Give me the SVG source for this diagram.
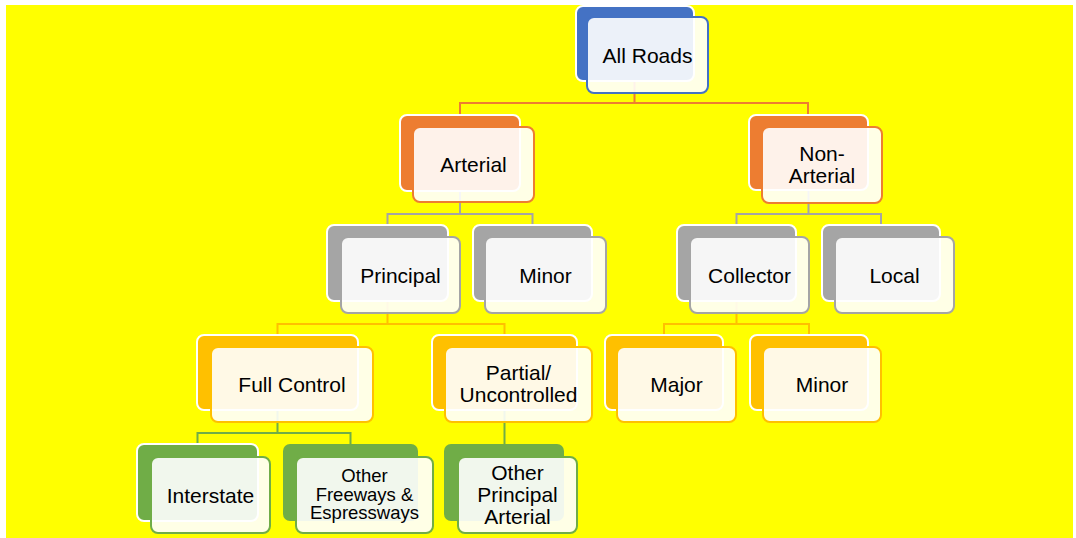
<svg xmlns="http://www.w3.org/2000/svg" width="1076" height="538" viewBox="0 0 1076 538">
<style>
.bg{fill:#ffff00}
.b{stroke:#ffffff;stroke-width:2}
.f{fill:#ffffff;fill-opacity:0.9;stroke-width:2}
.blue .b{fill:#4472c4}.blue .f{stroke:#4472c4}
.org .b{fill:#ed7d31}.org .f{stroke:#ed7d31}
.gry .b{fill:#a5a5a5}.gry .f{stroke:#a5a5a5}
.gld .b{fill:#ffc000}.gld .f{stroke:#ffc000}
.grn .b{fill:#70ad47}.grn .f{stroke:#70ad47}
.nb{stroke:none}
text{font-family:"Liberation Sans",Arial,sans-serif;font-size:21px;fill:#000;text-anchor:middle}
.sm{font-size:18.5px}
.c{fill:none;stroke-width:2}
</style>
<rect class="bg" x="6" y="5" width="1067" height="533"/>
<g id="connectors">
<path class="c" stroke="#ed7d31" d="M634.5 81V103M460 115V103H808V115"/>
<path class="c" stroke="#a5a5a5" d="M460 191V214M387.5 225V214H532.5V225"/>
<path class="c" stroke="#a5a5a5" d="M808.5 190V214M736.5 225V214H881V225"/>
<path class="c" stroke="#ffc000" d="M387.5 301V324M277.5 335V324H504.5V335"/>
<path class="c" stroke="#ffc000" d="M736.5 301V324M664 335V324H809V335"/>
<path class="c" stroke="#70ad47" d="M277.5 410V433M197.5 444V433H350.5V444"/>
<path class="c" stroke="#70ad47" d="M504.5 410V444"/>
</g>
<g id="all-roads" class="blue">
<rect class="b" x="576" y="6" width="118" height="75" rx="7"/>
<rect class="f" x="587" y="17" width="121" height="76" rx="7"/>
<text x="647.5" y="62.5">All Roads</text>
</g>
<g id="arterial" class="org">
<rect class="b" x="400" y="115" width="120" height="76" rx="7"/>
<rect class="f" x="413" y="127" width="121" height="75" rx="7"/>
<text x="473.5" y="172">Arterial</text>
</g>
<g id="non-arterial" class="org">
<rect class="b" x="749" y="115" width="119" height="75" rx="7"/>
<rect class="f" x="762" y="127" width="120" height="76" rx="7"/>
<text x="822" y="160.5">Non-</text>
<text x="822" y="182.5">Arterial</text>
</g>
<g id="principal" class="gry">
<rect class="b" x="327" y="225" width="121" height="76" rx="7"/>
<rect class="f" x="341" y="237" width="119" height="76" rx="7"/>
<text x="400.5" y="282.5">Principal</text>
</g>
<g id="minor-arterial" class="gry">
<rect class="b" x="473" y="225" width="119" height="76" rx="7"/>
<rect class="f" x="485" y="237" width="121" height="76" rx="7"/>
<text x="545.5" y="282.5">Minor</text>
</g>
<g id="collector" class="gry">
<rect class="b" x="677" y="225" width="119" height="76" rx="7"/>
<rect class="f" x="690" y="237" width="119" height="76" rx="7"/>
<text x="749.5" y="282.5">Collector</text>
</g>
<g id="local" class="gry">
<rect class="b" x="822" y="225" width="118" height="76" rx="7"/>
<rect class="f" x="835" y="237" width="119" height="76" rx="7"/>
<text x="894.5" y="282.5">Local</text>
</g>
<g id="full-control" class="gld">
<rect class="b" x="197" y="335" width="161" height="75" rx="7"/>
<rect class="f" x="211" y="347" width="162" height="75" rx="7"/>
<text x="292" y="392">Full Control</text>
</g>
<g id="partial" class="gld">
<rect class="b" x="432" y="335" width="145" height="75" rx="7"/>
<rect class="f" x="445" y="347" width="147" height="75" rx="7"/>
<text x="518.5" y="379.5">Partial/</text>
<text x="518.5" y="401.5">Uncontrolled</text>
</g>
<g id="major" class="gld">
<rect class="b" x="605" y="335" width="118" height="75" rx="7"/>
<rect class="f" x="617" y="347" width="119" height="75" rx="7"/>
<text x="676.5" y="392">Major</text>
</g>
<g id="minor-collector" class="gld">
<rect class="b" x="750" y="335" width="118" height="75" rx="7"/>
<rect class="f" x="763" y="347" width="118" height="75" rx="7"/>
<text x="822" y="392">Minor</text>
</g>
<g id="interstate" class="grn">
<rect class="b" x="137" y="444" width="121" height="77" rx="7"/>
<rect class="f" x="151" y="457" width="119" height="76" rx="7"/>
<text x="210.5" y="502.5">Interstate</text>
</g>
<g id="other-freeways" class="grn">
<rect class="b nb" x="283" y="444" width="135" height="77" rx="7"/>
<rect class="f" x="296" y="457" width="137" height="76" rx="7"/>
<text class="sm" x="364.5" y="482">Other</text>
<text class="sm" x="364.5" y="500.5">Freeways &amp;</text>
<text class="sm" x="364.5" y="519">Espressways</text>
</g>
<g id="other-principal-arterial" class="grn">
<rect class="b nb" x="444" y="444" width="120" height="77" rx="7"/>
<rect class="f" x="458" y="457" width="119" height="76" rx="7"/>
<text x="517.5" y="479.5">Other</text>
<text x="517.5" y="501.5">Principal</text>
<text x="517.5" y="523.5">Arterial</text>
</g>
</svg>
